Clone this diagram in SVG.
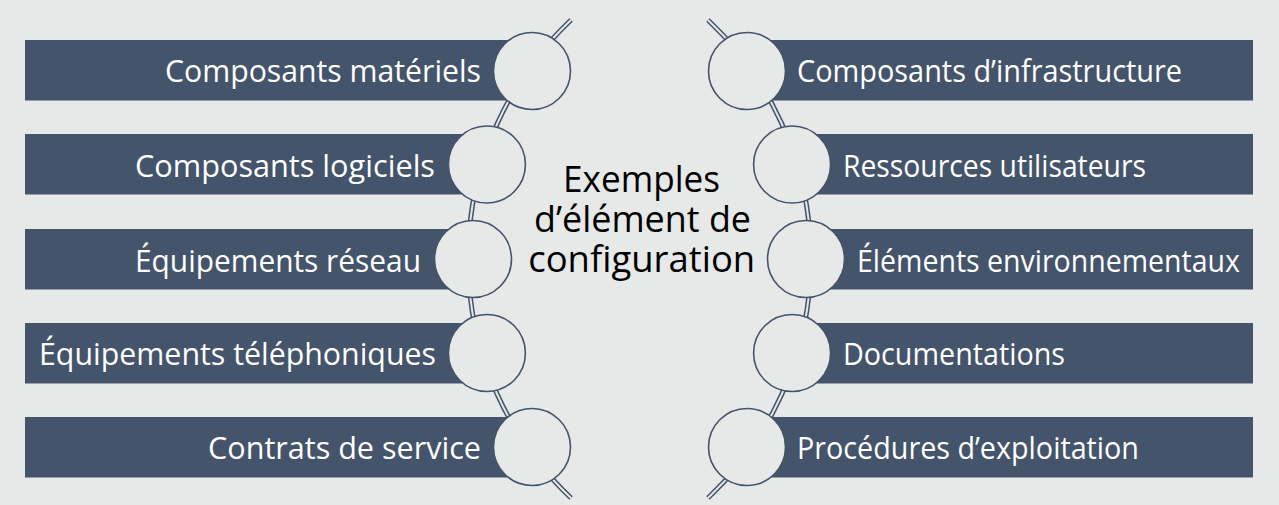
<svg xmlns="http://www.w3.org/2000/svg" xmlns:xlink="http://www.w3.org/1999/xlink" width="1279" height="505" viewBox="0 0 1279 505">
<style>
.bg{fill:#e7e8e8}
.bar{fill:#44546a}
.lbl{font-family:"Open Sans","Noto Sans","Liberation Sans",sans-serif;font-size:31px;fill:#ffffff}
.ctr{font-family:"Open Sans","Noto Sans","Liberation Sans",sans-serif;font-size:37px;fill:#000000;text-anchor:middle}
.dot{fill:#e7e8e8;stroke:#44546a;stroke-width:1.6}
.wireo{fill:none;stroke:#44546a;stroke-width:5}
.wirei{fill:none;stroke:#e7e8e8;stroke-width:2}
</style>
<defs>
<path id="arcL" d="M 571 20 A 329 329 0 0 0 571 498"/>
<path id="arcR" d="M 708 20 A 329 329 0 0 1 708 498"/>
</defs>
<rect class="bg" x="0" y="0" width="1279" height="505"/>
<g id="connectors">
<use href="#arcL" class="wireo"/>
<use href="#arcL" class="wirei"/>
<use href="#arcR" class="wireo"/>
<use href="#arcR" class="wirei"/>
</g>
<g id="node-l1"><rect class="bar" x="25" y="40" width="507" height="60.5"/><circle class="dot" cx="532" cy="71" r="38.5"/><text class="lbl" x="165" y="82" textLength="316" lengthAdjust="spacingAndGlyphs">Composants matériels</text></g>
<g id="node-l2"><rect class="bar" x="25" y="134" width="462" height="60.5"/><circle class="dot" cx="486.9" cy="164.5" r="38.5"/><text class="lbl" x="135" y="176.5" textLength="300" lengthAdjust="spacingAndGlyphs">Composants logiciels</text></g>
<g id="node-l3"><rect class="bar" x="25" y="229" width="448" height="60.5"/><circle class="dot" cx="473" cy="259" r="38.5"/><text class="lbl" x="135" y="271.5" textLength="286" lengthAdjust="spacingAndGlyphs">Équipements réseau</text></g>
<g id="node-l4"><rect class="bar" x="25" y="323" width="462" height="60.5"/><circle class="dot" cx="486.9" cy="353" r="38.5"/><text class="lbl" x="39" y="365" textLength="397" lengthAdjust="spacingAndGlyphs">Équipements téléphoniques</text></g>
<g id="node-l5"><rect class="bar" x="25" y="417" width="507" height="60.5"/><circle class="dot" cx="532" cy="447" r="38.5"/><text class="lbl" x="208" y="459" textLength="273" lengthAdjust="spacingAndGlyphs">Contrats de service</text></g>
<g id="node-r1"><rect class="bar" x="747" y="40" width="506" height="60.5"/><circle class="dot" cx="747" cy="71" r="38.5"/><text class="lbl" x="797" y="82" textLength="385" lengthAdjust="spacingAndGlyphs">Composants d’infrastructure</text></g>
<g id="node-r2"><rect class="bar" x="792" y="134" width="461" height="60.5"/><circle class="dot" cx="792.1" cy="164.5" r="38.5"/><text class="lbl" x="843" y="176.5" textLength="303" lengthAdjust="spacingAndGlyphs">Ressources utilisateurs</text></g>
<g id="node-r3"><rect class="bar" x="806" y="229" width="447" height="60.5"/><circle class="dot" cx="806" cy="259" r="38.5"/><text class="lbl" x="857" y="271.5" textLength="383" lengthAdjust="spacingAndGlyphs">Éléments environnementaux</text></g>
<g id="node-r4"><rect class="bar" x="792" y="323" width="461" height="60.5"/><circle class="dot" cx="792.1" cy="353" r="38.5"/><text class="lbl" x="843" y="365" textLength="222" lengthAdjust="spacingAndGlyphs">Documentations</text></g>
<g id="node-r5"><rect class="bar" x="747" y="417" width="506" height="60.5"/><circle class="dot" cx="747" cy="447" r="38.5"/><text class="lbl" x="797" y="459" textLength="342" lengthAdjust="spacingAndGlyphs">Procédures d’exploitation</text></g>
<g id="node-center">
<text class="ctr" x="641.5" y="192" textLength="157" lengthAdjust="spacingAndGlyphs">Exemples</text>
<text class="ctr" x="642.5" y="232" textLength="217" lengthAdjust="spacingAndGlyphs">d’élément de</text>
<text class="ctr" x="641.7" y="272" textLength="227" lengthAdjust="spacingAndGlyphs">configuration</text>
</g>
</svg>
